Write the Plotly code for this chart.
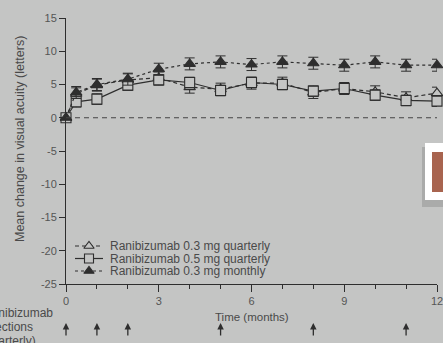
import plotly.graph_objects as go

# ---- data ----
months = [0, 0.33, 1, 2, 3, 4, 5, 6, 7, 8, 9, 10, 11, 12]
q03_quarterly = [0, 3.6, 4.9, 5.7, 6.0, 4.6, 4.3, 5.2, 5.2, 3.8, 4.4, 3.9, 3.0, 3.7]
q05_quarterly = [0, 2.4, 2.8, 4.9, 5.7, 5.3, 4.1, 5.3, 5.0, 4.0, 4.4, 3.4, 2.6, 2.5]
m03_monthly = [0, 3.8, 5.0, 5.8, 7.3, 8.1, 8.4, 8.0, 8.4, 8.2, 7.9, 8.4, 7.9, 7.9]
err_q03 = [0, 0.9, 0.9, 0.9, 0.9, 0.9, 0.9, 0.9, 0.9, 0.9, 0.9, 0.9, 0.9, 0.9]
err_q05 = [0, 0.8, 0.8, 0.8, 0.8, 0.8, 0.8, 0.8, 0.8, 0.8, 0.8, 0.8, 0.8, 0.8]
err_m03 = [0, 0.9, 0.9, 0.9, 0.9, 0.9, 0.9, 0.9, 0.9, 0.9, 0.9, 0.9, 0.9, 0.9]
injection_months = [0, 1, 2, 5, 8, 11]
series_names = ["Ranibizumab 0.3 mg quarterly",
                "Ranibizumab 0.5 mg quarterly",
                "Ranibizumab 0.3 mg monthly"]
x_range = [0, 12]
x_tickvals = [0, 3, 6, 9, 12]
y_tickvals = [-25, -20, -15, -10, -5, 0, 5, 10, 15]
y_ticktext = ["-25", "-20", "-15", "-10", "-5", "0", "5", "10", "15"]

BG = "#c4c5c4"
INK = "#2e2e2e"
TXT = "#4a4a4a"
FONT = "Liberation Sans, Arial, sans-serif"

# plot-area geometry (pixels)
W, H = 443, 343
ML, MR, MT, MB = 66, 6, 18, 59
PW, PH = W - ML - MR, H - MT - MB


def px(x):
    return (x - ML) / PW


def py(y):
    return (H - MB - y) / PH


fig = go.Figure()


def add_series(y, err, symbol, dash, fill):
    fig.add_trace(go.Scatter(
        x=months, y=y, mode="lines+markers",
        line=dict(color=INK, width=1.2, dash=dash),
        marker=dict(symbol=symbol, size=10, color=fill,
                    line=dict(color=INK, width=1.1)),
        error_y=dict(type="data", array=err, visible=True,
                     color=INK, thickness=1, width=5),
        cliponaxis=False, showlegend=False))


add_series(q03_quarterly, err_q03, "triangle-up", "4px,3px", BG)
add_series(q05_quarterly, err_q05, "square", "solid", BG)
add_series(m03_monthly, err_m03, "triangle-up", "3px,3px", INK)

# ---- custom legend on a pixel overlay axis ----
leg_rows = [246, 258.5, 271]
leg_styles = [("triangle-up", "4px,3px", BG), ("square", "solid", BG), ("triangle-up", "3px,3px", INK)]
for (sym, dash, fill), yy, name in zip(leg_styles, leg_rows, series_names):
    fig.add_trace(go.Scatter(
        x=[75, 103], y=[yy, yy], mode="lines", xaxis="x2", yaxis="y2",
        line=dict(color=INK, width=1.2, dash=dash), showlegend=False,
        hoverinfo="skip"))
    fig.add_trace(go.Scatter(
        x=[89], y=[yy], mode="markers", xaxis="x2", yaxis="y2",
        marker=dict(symbol=sym, size=9, color=fill, line=dict(color=INK, width=1.1)),
        showlegend=False, hoverinfo="skip"))
    fig.add_annotation(x=px(108), y=py(yy), xref="paper", yref="paper", text=name,
                       showarrow=False, xanchor="left", yanchor="middle",
                       font=dict(family=FONT, size=12, color=TXT))

# zero reference line
fig.add_shape(type="line", x0=0, x1=12, y0=0, y1=0, xref="x", yref="y",
              line=dict(color="#444444", width=1.1, dash="5px,4px"))

# injection arrows
for m in injection_months:
    fig.add_annotation(x=(m - x_range[0]) / (x_range[1] - x_range[0]), y=py(323),
                       xref="paper", yref="paper", text="",
                       showarrow=True, ax=0, ay=14, arrowhead=2, arrowsize=1,
                       arrowwidth=1.3, arrowcolor=INK, standoff=0)

# left labels (cut off at the left edge, as in the reference)
for txt, xr, yy in [("Ranibizumab", 55, 313), ("injections", 35, 327), ("(quarterly)", 38, 341)]:
    fig.add_annotation(x=px(xr), y=py(yy), xref="paper", yref="paper", text=txt,
                       showarrow=False, xanchor="right", yanchor="middle",
                       font=dict(family=FONT, size=12, color=TXT))

# axis titles
fig.add_annotation(x=px(20), y=py(139), xref="paper", yref="paper",
                   text="Mean change in visual acuity (letters)", textangle=-90,
                   showarrow=False, xanchor="center", yanchor="middle",
                   font=dict(family=FONT, size=12.5, color=TXT))
fig.add_annotation(x=px(252), y=py(317), xref="paper", yref="paper", text="Time (months)",
                   showarrow=False, xanchor="center", yanchor="middle",
                   font=dict(family=FONT, size=11.5, color=TXT))

# overlay UI artefact at the right edge
fig.add_shape(type="rect", xref="paper", yref="paper",
              x0=px(422), x1=px(450), y0=py(147), y1=py(207),
              fillcolor="rgba(0,0,0,0.13)", line=dict(width=0), layer="above")
fig.add_shape(type="rect", xref="paper", yref="paper",
              x0=px(425), x1=px(450), y0=py(143), y1=py(200),
              fillcolor="white", line=dict(width=0), layer="above")
fig.add_shape(type="rect", xref="paper", yref="paper",
              x0=px(432), x1=px(450), y0=py(152), y1=py(192),
              fillcolor="#a8644f", line=dict(width=0), layer="above")

fig.update_layout(
    width=W, height=H,
    margin=dict(l=ML, r=MR, t=MT, b=MB),
    paper_bgcolor=BG, plot_bgcolor=BG,
    font=dict(family=FONT, size=10, color=TXT),
    xaxis=dict(range=x_range, tickvals=x_tickvals, showgrid=False, zeroline=False,
               automargin=False, ticklabeloverflow="allow",
               showline=True, linecolor=INK, linewidth=1, ticks="outside",
               ticklen=7, tickcolor=INK, tickfont=dict(size=11, color="#555555"),
               minor=dict(dtick=1, ticks="outside", ticklen=4, tickcolor=INK)),
    yaxis=dict(range=[-25, 15], tickvals=y_tickvals, ticktext=y_ticktext,
               automargin=False, ticklabeloverflow="allow",
               showgrid=False, zeroline=False, showline=True, linecolor=INK,
               linewidth=1, ticks="outside", ticklen=6, tickcolor=INK,
               tickfont=dict(size=11, color="#555555")),
    xaxis2=dict(range=[ML, W - MR], overlaying="x", visible=False, fixedrange=True,
                automargin=False),
    yaxis2=dict(range=[H - MB, MT], overlaying="y", visible=False, fixedrange=True,
                automargin=False),
)

fig.write_html("out.html")
